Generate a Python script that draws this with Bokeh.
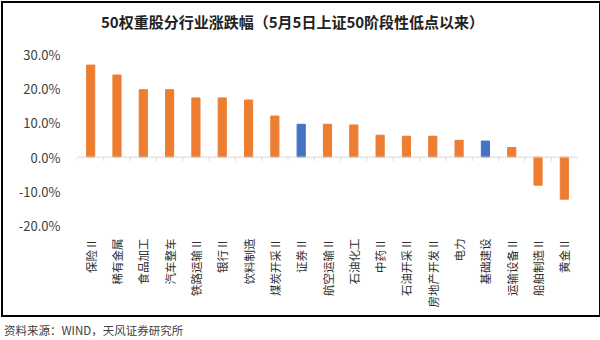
from bokeh.plotting import figure
from bokeh.models import (Range1d, LinearAxis, FixedTicker, ColumnDataSource,
                          CustomJSTickFormatter, Span, Div)
from bokeh.layouts import column
from bokeh.embed import file_html
from bokeh.resources import INLINE

categories = ["保险Ⅱ", "稀有金属", "食品加工", "汽车整车", "铁路运输Ⅱ", "银行Ⅱ",
              "饮料制造", "煤炭开采Ⅱ", "证券Ⅱ", "航空运输Ⅱ", "石油化工", "中药Ⅱ",
              "石油开采Ⅱ", "房地产开发Ⅱ", "电力", "基础建设", "运输设备Ⅱ",
              "船舶制造Ⅱ", "黄金Ⅱ"]
values = [26.9, 24.0, 19.7, 19.7, 17.3, 17.3, 16.7, 12.0, 9.6, 9.6, 9.4, 6.4,
          6.1, 6.1, 4.9, 4.7, 2.8, -8.2, -12.3]
highlight = ["证券Ⅱ", "基础建设"]
y_ticks = [-20, -10, 0, 10, 20, 30]
title_text = "50权重股分行业涨跌幅（5月5日上证50阶段性低点以来）"
source_text = "资料来源：WIND，天风证券研究所"

ORANGE = "#ED7D31"
BLUE = "#4472C4"
FONT = "Noto Sans CJK SC"

n = len(categories)
xs = [i + 0.5 for i in range(n)]
colors = [BLUE if c in highlight else ORANGE for c in categories]
src = ColumnDataSource(dict(x=xs, top=values, color=colors))

title_div = Div(text=title_text, width=596, height=36, margin=(0, 0, 0, 0),
                styles={"font-family": FONT, "font-size": "15px", "font-weight": "bold",
                        "color": "#222222", "padding-left": "98px", "padding-top": "8px",
                        "white-space": "nowrap", "box-sizing": "border-box"})

p = figure(width=596, height=276, output_backend="svg", toolbar_location=None,
           x_range=Range1d(0, n), y_range=Range1d(-20, 30),
           x_axis_location=None, y_axis_location=None,
           min_border_left=74, min_border_right=22, min_border_top=15,
           min_border_bottom=90)
p.margin = (0, 0, 0, 0)
p.outline_line_color = None
p.xgrid.grid_line_color = None
p.ygrid.grid_line_color = None
p.background_fill_color = "white"
p.border_fill_color = "white"

# zero line and boundary ticks
p.add_layout(Span(location=0, dimension="width", line_color="#D9D9D9", line_width=1))
bounds = list(range(n + 1))
tick_len = 50 / 171 * 4
p.segment(x0=bounds, x1=bounds, y0=[0] * len(bounds), y1=[-tick_len] * len(bounds),
          line_color="#D9D9D9", line_width=1)

p.vbar(x="x", top="top", bottom=0, width=0.31, color="color", source=src)

# y axis
yax = LinearAxis(ticker=FixedTicker(ticks=y_ticks),
                 formatter=CustomJSTickFormatter(code="return tick.toFixed(1) + '%';"))
yax.axis_line_color = None
yax.major_tick_line_color = None
yax.minor_tick_line_color = None
yax.major_label_standoff = 11
yax.major_label_text_font = FONT
yax.major_label_text_font_size = "13px"
yax.major_label_text_color = "#404040"
p.add_layout(yax, "left")

# category labels
overrides = {float(x): c for x, c in zip(xs, categories)}
xax = LinearAxis(ticker=FixedTicker(ticks=xs), major_label_overrides=overrides)
xax.axis_line_color = None
xax.major_tick_line_color = None
xax.minor_tick_line_color = None
xax.major_label_orientation = 3.14159265 / 2
xax.major_label_standoff = 7
xax.major_label_text_font = FONT
xax.major_label_text_font_size = "11.5px"
xax.major_label_text_color = "#303030"
p.add_layout(xax, "below")

inner = column(title_div, p, margin=(1, 0, 0, 1), spacing=0,
               styles={"border": "2px solid #000000", "background": "white"})

source_div = Div(text=source_text, width=596, height=20, margin=(5, 0, 0, 4),
                 styles={"font-family": FONT, "font-size": "11.5px", "color": "#404040"})

layout = column(inner, source_div, spacing=0)
open("out.html", "w").write(file_html(layout, INLINE))
